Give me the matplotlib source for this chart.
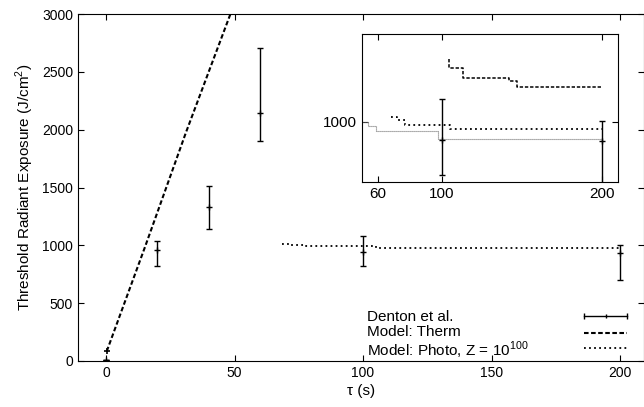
import numpy as np
import matplotlib.pyplot as plt
from matplotlib.lines import Line2D

plt.rcParams['font.family'] = ['Liberation Sans', 'DejaVu Sans']
plt.rcParams['font.size'] = 10
plt.rcParams['mathtext.fontset'] = 'custom'
plt.rcParams['mathtext.rm'] = 'Liberation Sans'

#%% data
# Denton et al. measurements: tau (s), value, upper and lower error limits
denton_tau = [0, 20, 40, 60, 100, 200]
denton_val = [10, 960, 1330, 2140, 940, 935]
denton_hi = [10, 1035, 1515, 2710, 1077, 1002]
denton_lo = [10, 825, 1145, 1900, 823, 700]

# thermal model
therm_tau = [0.3, 15.2, 31.1, 48.4, 50.0]
therm_val = [85, 988, 1976, 3000, 3100]

# photochemical model, Z = 1e100 (stepped)
photo_tau = [68.4, 72, 77, 105, 200]
photo_val = [1015, 1007, 990, 975, 975]

# extra curves that only show in the inset
inset_dash_tau = [104.2, 104.2, 113, 141.6, 146.8, 200]
inset_dash_val = [1211, 1181, 1147, 1136, 1117, 1117]
inset_fine_tau = [50, 54, 59, 97.2, 200]
inset_fine_val = [998, 987, 968, 943, 943]

legend_labels = ['Denton et al.', 'Model: Therm', r'Model: Photo, Z = 10$^{100}$']

#%% figure
fig = plt.figure(figsize=(6.44, 4.07), dpi=100)
ax = fig.add_axes([78/644, 1-361/407, 566/644, 347/407])

err = [np.array(denton_val) - np.array(denton_lo), np.array(denton_hi) - np.array(denton_val)]

therm_style = dict(color='black', lw=1.5, dashes=(2.2, 1.2))
photo_style = dict(color='black', lw=1.3, dashes=(1.0, 1.8))


def draw_curves(a, cap):
    a.errorbar(denton_tau, denton_val, yerr=err, fmt='+', color='black', ms=5,
               elinewidth=1, capsize=cap, capthick=1, mew=1)
    a.plot(therm_tau, therm_val, **therm_style)
    a.plot(photo_tau, photo_val, drawstyle='steps-post', **photo_style)


draw_curves(ax, 2)
ax.plot(therm_tau[:1], therm_val[:1], marker='+', color='black', ms=5, mew=1.2)

ax.set_xlim(-10.9, 209.3)
ax.set_ylim(0, 3000)
ax.set_xticks([0, 50, 100, 150, 200])
ax.set_yticks(range(0, 3001, 500))
ax.tick_params(direction='in', top=True, right=True, length=4, width=0.8)
ax.set_xlabel('τ (s)', fontsize=11, labelpad=3)
ax.set_ylabel(r'Threshold Radiant Exposure (J/cm$^2$)', fontsize=11, labelpad=4)

# gnuplot-style key: text left, sample on the right
text_y = [0.1153, 0.0728, 0.0150]
key_y = [0.1297, 0.0816, 0.0366]
key_x = [0.894, 0.970]
for lab, ty in zip(legend_labels, text_y):
    ax.text(0.511, ty, lab, transform=ax.transAxes, fontsize=11, va='baseline', ha='left')
ax.add_line(Line2D(key_x, [key_y[0]] * 2, transform=ax.transAxes, color='black', lw=1,
                   marker='|', ms=5, mew=1))
ax.add_line(Line2D([sum(key_x) / 2], [key_y[0]], transform=ax.transAxes, color='black',
                   marker='|', ms=3, mew=1))
ax.add_line(Line2D(key_x, [key_y[1]] * 2, transform=ax.transAxes, **therm_style))
ax.add_line(Line2D(key_x, [key_y[2]] * 2, transform=ax.transAxes, **photo_style))

#%% inset
axi = fig.add_axes([362/644, 1-182/407, 256/644, 148/407])
draw_curves(axi, 2.5)
axi.plot(inset_dash_tau, inset_dash_val, color='black', lw=1.1, dashes=(2.2, 1.2),
         drawstyle='steps-post')
axi.plot(inset_fine_tau, inset_fine_val, color='#777777', lw=0.8, dashes=(1.0, 0.8),
         drawstyle='steps-post')
axi.set_xlim(50, 210)
axi.set_ylim(798, 1295)
axi.set_xticks([60, 100, 200])
axi.set_yticks([1000])
axi.tick_params(direction='in', top=True, right=True, length=4, width=0.8, labelsize=11)

fig.savefig('out.png', dpi=100)
